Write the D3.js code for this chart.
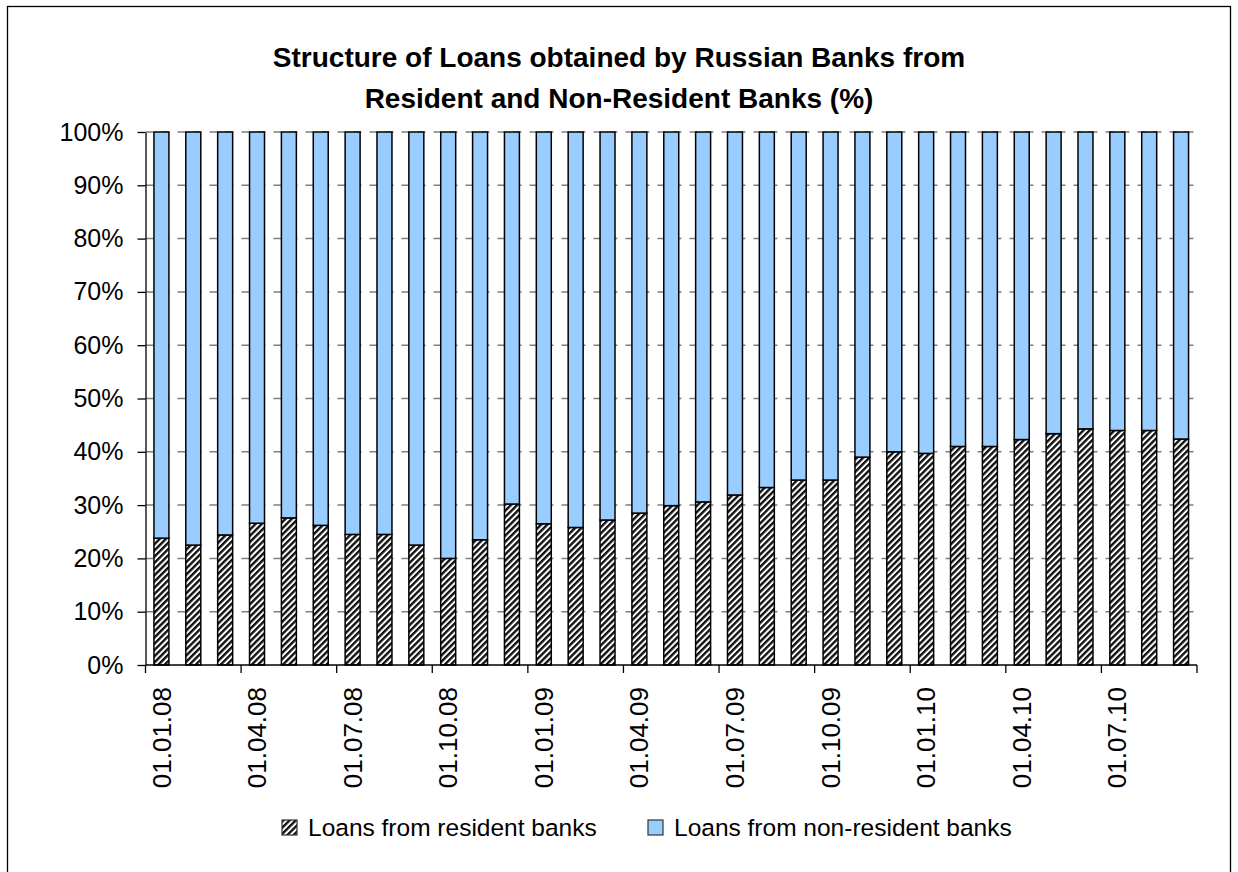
<!DOCTYPE html>
<html lang="en">
<head>
  <meta charset="UTF-8">
  <title>Structure of Loans obtained by Russian Banks</title>
  <script src="https://d3js.org/d3.v7.min.js"></script>
  <style>
    body { margin: 0; background: #fff; }
    svg { display: block; font-family: "Liberation Sans", Arial, sans-serif; }
    .grid line { stroke: #7f7f7f; stroke-width: 1.5; stroke-dasharray: 8 8; }
    .axis path, .axis line { stroke: #000; stroke-width: 1.3; }
    .axis text { font-size: 25px; fill: #000; }
    .axis text.xlab { font-size: 26px; }
  </style>
</head>
<body>
  <svg id="chart" width="1238" height="872"></svg>
  <script>
    // ---- data ----
    const dates = [
      "01.01.08","01.02.08","01.03.08","01.04.08","01.05.08","01.06.08",
      "01.07.08","01.08.08","01.09.08","01.10.08","01.11.08","01.12.08",
      "01.01.09","01.02.09","01.03.09","01.04.09","01.05.09","01.06.09",
      "01.07.09","01.08.09","01.09.09","01.10.09","01.11.09","01.12.09",
      "01.01.10","01.02.10","01.03.10","01.04.10","01.05.10","01.06.10",
      "01.07.10","01.08.10","01.09.10"
    ];
    const residentBanks = [
      23.8, 22.5, 24.4, 26.6, 27.6, 26.2, 24.5, 24.5, 22.5, 20.0, 23.5, 30.2,
      26.5, 25.8, 27.2, 28.5, 29.9, 30.6, 31.9, 33.3, 34.7, 34.7, 39.0, 40.0,
      39.7, 41.0, 41.0, 42.3, 43.4, 44.3, 44.0, 44.0, 42.4
    ];
    const nonResidentBanks = [
      76.2, 77.5, 75.6, 73.4, 72.4, 73.8, 75.5, 75.5, 77.5, 80.0, 76.5, 69.8,
      73.5, 74.2, 72.8, 71.5, 70.1, 69.4, 68.1, 66.7, 65.3, 65.3, 61.0, 60.0,
      60.3, 59.0, 59.0, 57.7, 56.6, 55.7, 56.0, 56.0, 57.6
    ];
    const seriesNames = ["Loans from resident banks", "Loans from non-resident banks"];
    const yTicks = [0, 10, 20, 30, 40, 50, 60, 70, 80, 90, 100];
    const titleLines = [
      "Structure of Loans obtained by Russian Banks from",
      "Resident and Non-Resident Banks (%)"
    ];

    // ---- layout ----
    const W = 1238, H = 872;
    const plot = { left: 145.5, right: 1197, top: 132, bottom: 665 };

    const svg = d3.select("#chart");

    // frame
    svg.append("rect")
      .attr("x", 7.5).attr("y", 6.5)
      .attr("width", 1223).attr("height", 880)
      .attr("fill", "none").attr("stroke", "#000").attr("stroke-width", 1.3);

    // hatch pattern
    const defs = svg.append("defs");
    const hatch = defs.append("pattern")
      .attr("id", "hatch")
      .attr("patternUnits", "userSpaceOnUse")
      .attr("width", 4.4).attr("height", 4.4)
      .attr("patternTransform", "rotate(45)");
    hatch.append("rect").attr("width", 4.4).attr("height", 4.4).attr("fill", "#fff");
    hatch.append("rect").attr("width", 2.4).attr("height", 4.4).attr("fill", "#111");

    const colors = ["url(#hatch)", "#99ccff"];

    // scales
    const x = d3.scaleBand()
      .domain(dates)
      .range([plot.left, plot.right])
      .paddingInner(0.53)
      .paddingOuter(0.265);

    const y = d3.scaleLinear()
      .domain([0, 100])
      .range([plot.bottom, plot.top]);

    // title
    svg.append("g").selectAll("text")
      .data(titleLines)
      .join("text")
      .attr("x", W / 2)
      .attr("y", (d, i) => 67 + i * 41)
      .attr("text-anchor", "middle")
      .attr("font-size", 28)
      .attr("font-weight", "bold")
      .text(d => d);

    // gridlines
    svg.append("g").attr("class", "grid")
      .selectAll("line")
      .data(yTicks.filter(d => d > 0))
      .join("line")
      .attr("x1", plot.left).attr("x2", plot.right)
      .attr("y1", d => y(d)).attr("y2", d => y(d));

    // stacked bars
    const rows = dates.map((d, i) => ({ date: d, res: residentBanks[i], non: nonResidentBanks[i] }));
    const stack = d3.stack().keys(["res", "non"])(rows);

    svg.append("g").selectAll("g")
      .data(stack)
      .join("g")
      .attr("fill", (d, i) => colors[i])
      .selectAll("rect")
      .data(d => d)
      .join("rect")
      .attr("x", d => x(d.data.date))
      .attr("width", x.bandwidth())
      .attr("y", d => y(d[1]))
      .attr("height", d => y(d[0]) - y(d[1]))
      .attr("stroke", "#000")
      .attr("stroke-width", 1.5);

    // y axis
    svg.append("g").attr("class", "axis")
      .attr("transform", `translate(${plot.left},0)`)
      .call(d3.axisLeft(y).tickValues(yTicks).tickFormat(d => d + "%")
        .tickSizeInner(8).tickSizeOuter(0).tickPadding(14));

    // x axis: ticks at every third category boundary, labels at category centres
    const step = x.step();
    const xTickPos = d3.range(0, dates.length + 1, 3).map(i => plot.left + i * step);
    const xAxis = svg.append("g").attr("class", "axis");
    xAxis.append("line")
      .attr("x1", plot.left).attr("x2", plot.right)
      .attr("y1", plot.bottom).attr("y2", plot.bottom);
    xAxis.selectAll(".tick")
      .data(xTickPos)
      .join("line")
      .attr("class", "tick")
      .attr("x1", d => d).attr("x2", d => d)
      .attr("y1", plot.bottom).attr("y2", plot.bottom + 8);
    xAxis.selectAll("text")
      .data(dates.filter((d, i) => i % 3 === 0))
      .join("text")
      .attr("class", "xlab")
      .attr("transform", d => `translate(${x(d) + x.bandwidth() / 2},${plot.bottom + 22}) rotate(-90)`)
      .attr("dy", "0.35em")
      .attr("text-anchor", "end")
      .text(d => d);

    // legend
    const legendX = [282, 648];
    const legend = svg.append("g").selectAll("g")
      .data(seriesNames)
      .join("g")
      .attr("transform", (d, i) => `translate(${legendX[i]},820)`);
    legend.append("rect")
      .attr("width", 15).attr("height", 15)
      .attr("fill", (d, i) => colors[i])
      .attr("stroke", "#333").attr("stroke-width", 1.2);
    legend.append("text")
      .attr("x", 26).attr("y", 16)
      .attr("font-size", 24.5)
      .text(d => d);
  </script>
</body>
</html>
